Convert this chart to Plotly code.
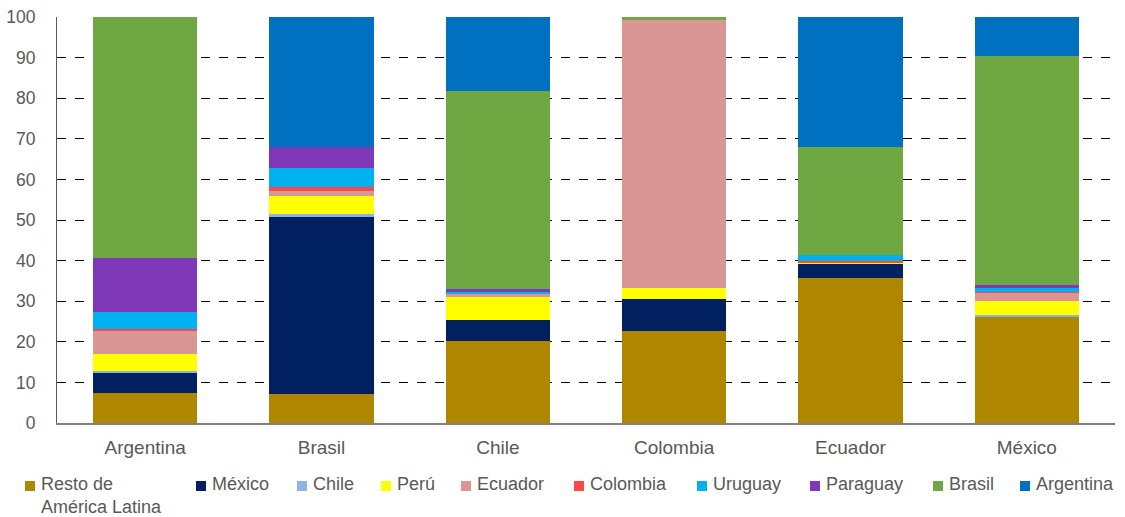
import plotly.graph_objects as go

countries = ["Argentina", "Brasil", "Chile", "Colombia", "Ecuador", "México"]

series_names = ["Resto de<br>América Latina", "México", "Chile", "Perú", "Ecuador",
                "Colombia", "Uruguay", "Paraguay", "Brasil", "Argentina"]

resto     = [7.3, 7.1, 20.3, 22.7, 35.7, 26.2]
mexico    = [5.1, 43.7, 5.0, 7.9, 3.5, 0.0]
chile     = [0.4, 0.8, 0.0, 0.0, 0.0, 0.5]
peru      = [4.3, 4.4, 5.8, 2.7, 0.4, 3.3]
ecuador   = [5.6, 1.1, 0.8, 66.0, 0.0, 2.1]
colombia  = [0.4, 1.0, 0.1, 0.0, 0.4, 0.2]
uruguay   = [4.2, 4.7, 0.3, 0.0, 1.3, 0.9]
paraguay  = [13.3, 5.3, 0.7, 0.0, 0.0, 0.9]
brasil    = [59.4, 0.0, 48.8, 0.7, 26.7, 56.3]
argentina = [0.0, 31.9, 18.2, 0.0, 32.0, 9.6]

values = [resto, mexico, chile, peru, ecuador, colombia, uruguay, paraguay, brasil, argentina]
colors = ["#AF8600", "#002060", "#8DB4E2", "#FFFF00", "#DA9694",
          "#FF4848", "#00B0F0", "#7F39B8", "#6FA743", "#0070C0"]

# legend layout (pixel positions of each legend square's left edge)
W, H = 1125, 517
ML, MR, MT, MB = 57, 10, 17, 94
legend_px = [25, 196, 297, 381, 461, 574, 697, 810, 933, 1020]
legend_cy = 486
sq = 10
text_gap = 14.5

pw = W - ML - MR
ph = H - MT - MB

def px2x(px):
    return (px - ML) / pw

def py2y(py):
    return (H - MB - py) / ph

fig = go.Figure()
for name, vals, col in zip(series_names, values, colors):
    fig.add_trace(go.Bar(x=countries, y=vals, name=name, showlegend=False,
                         marker=dict(color=col, line=dict(width=0))))

font = "Liberation Sans, Arial, sans-serif"
txtcol = "#595959"

annotations = []
shapes = []
for name, col, lx in zip(series_names, colors, legend_px):
    shapes.append(dict(type="rect", xref="paper", yref="paper",
                       x0=px2x(lx), x1=px2x(lx + sq),
                       y0=py2y(legend_cy + sq / 2), y1=py2y(legend_cy - sq / 2),
                       fillcolor=col, line=dict(width=0), layer="above"))
    annotations.append(dict(text=name, xref="paper", yref="paper",
                            x=px2x(lx + text_gap), y=py2y(legend_cy - 13),
                            xanchor="left", yanchor="top", align="left",
                            showarrow=False, borderpad=0,
                            font=dict(family=font, size=18, color=txtcol)))

fig.update_layout(
    barmode="stack",
    bargap=0.41,
    width=W, height=H,
    margin=dict(l=ML, r=MR, t=MT, b=MB, autoexpand=False),
    plot_bgcolor="white", paper_bgcolor="white",
    font=dict(family=font, size=18, color=txtcol),
    annotations=annotations,
    shapes=shapes,
    showlegend=False,
)
fig.update_xaxes(showline=True, linecolor="#808080", linewidth=1.5,
                 ticks="", ticklabelstandoff=6, automargin=False,
                 tickfont=dict(family=font, size=19, color=txtcol))
fig.update_yaxes(range=[0, 100], dtick=10, showgrid=True, gridcolor="#000000",
                 griddash="dash", gridwidth=1, zeroline=False,
                 showline=True, linecolor="#595959", linewidth=1,
                 ticks="", ticklabelstandoff=17, automargin=False,
                 tickfont=dict(family=font, size=17.5, color=txtcol))

fig.write_html("out.html")
